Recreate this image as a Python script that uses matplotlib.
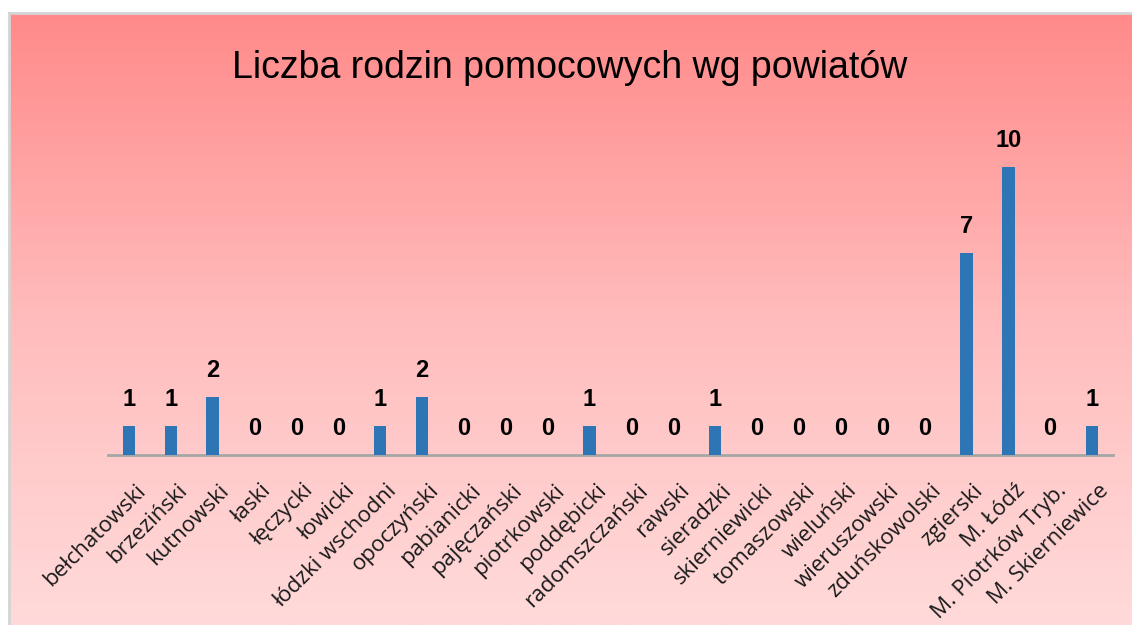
import numpy as np
import matplotlib.pyplot as plt
import matplotlib.transforms as mtransforms
from matplotlib.colors import LinearSegmentedColormap

powiaty = [
    "bełchatowski", "brzeziński", "kutnowski", "łaski", "łęczycki", "łowicki",
    "łódzki wschodni", "opoczyński", "pabianicki", "pajęczański", "piotrkowski",
    "poddębicki", "radomszczański", "rawski", "sieradzki", "skierniewicki",
    "tomaszowski", "wieluński", "wieruszowski", "zduńskowolski", "zgierski",
    "M. Łódź", "M. Piotrków Tryb.", "M. Skierniewice",
]
liczba_rodzin = [1, 1, 2, 0, 0, 0, 1, 2, 0, 0, 0, 1, 0, 0, 1, 0, 0, 0, 0, 0, 7, 10, 0, 1]

title = "Liczba rodzin pomocowych wg powiatów"

W, H = 1132, 625
fig = plt.figure(figsize=(W / 100, H / 100), dpi=100)
fig.patch.set_facecolor("white")

# background panel with vertical gradient
bg = fig.add_axes([10 / W, 0, 1 - 10 / W, 1 - 14 / H])
bg.set_axis_off()
grad_cmap = LinearSegmentedColormap.from_list(
    "grad",
    [(0.0, "#ff8a8a"), (0.25, "#ffa3a3"), (0.5, "#ffbcbc"), (0.72, "#ffcaca"), (1.0, "#ffdada")],
)
grad = np.linspace(0, 1, 256).reshape(-1, 1)
bg.imshow(grad, aspect="auto", cmap=grad_cmap, extent=[0, 1, 0, 1], origin="upper")
bg.set_xlim(0, 1)
bg.set_ylim(0, 1)

# thin grey frame on the top and left edges
fig.add_artist(plt.Line2D([9 / W, 9 / W], [0, 1 - 13 / H], color="#d4d4d4", lw=2))
fig.add_artist(plt.Line2D([9 / W, 1], [1 - 13 / H, 1 - 13 / H], color="#d4d4d4", lw=2))

ax = fig.add_axes([108 / W, 1 - 455 / H, (1113 - 108) / W, (455 - 110) / H])
ax.patch.set_alpha(0)

x = np.arange(len(powiaty))
bars = ax.bar(x, liczba_rodzin, width=0.3, color="#2e75b6", zorder=3)

for xi, v in zip(x, liczba_rodzin):
    ax.annotate(str(v), (xi, v), xytext=(0, 11), textcoords="offset points",
                ha="center", va="bottom", fontsize=17, fontweight="bold",
                family="Liberation Sans", color="black")

ax.set_xlim(-0.5, len(powiaty) - 0.5)
ax.set_ylim(0, 345 / 28.8)
ax.set_yticks([])
ax.set_xticks(x)
ax.set_xticklabels(powiaty, rotation=45, ha="right", rotation_mode="anchor",
                   fontsize=16, family="Open Sans", color="#1a1a1a")
ax.tick_params(axis="x", length=0, pad=18)
shift = mtransforms.ScaledTranslation(6 / 100, 0, fig.dpi_scale_trans)
for lbl in ax.get_xticklabels():
    lbl.set_transform(lbl.get_transform() + shift)
for s in ["top", "right", "left"]:
    ax.spines[s].set_visible(False)
ax.spines["bottom"].set_color("#a6a6a6")
ax.spines["bottom"].set_linewidth(2)

fig.text(570 / W, 1 - 68 / H, title, ha="center", va="center",
         fontsize=27, family="Liberation Sans", color="black")

fig.savefig("out.png", dpi=100)
